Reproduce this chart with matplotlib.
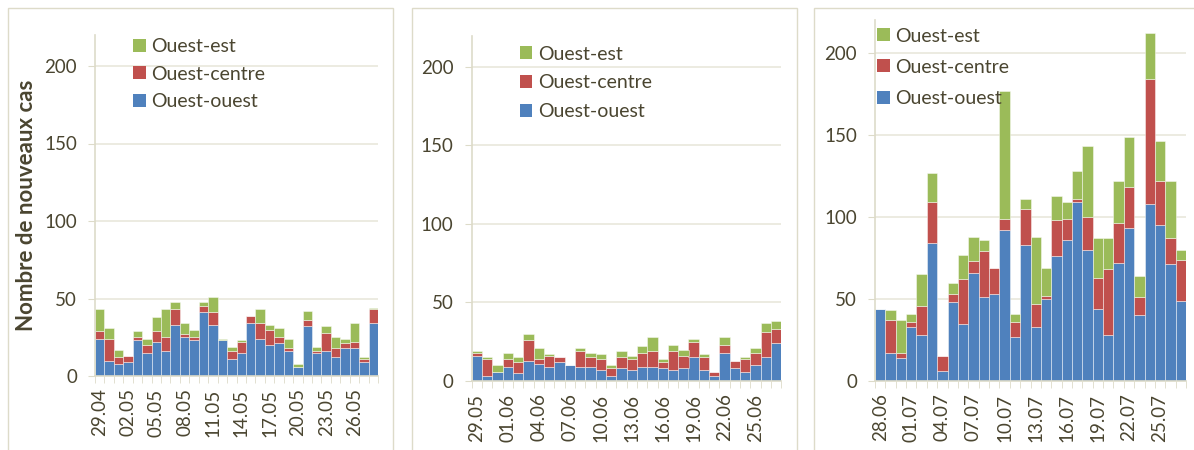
import matplotlib
matplotlib.use("Agg")
import matplotlib.pyplot as plt
from matplotlib.patches import Patch, Rectangle
import numpy as np

# ---------------- data ----------------
series_names = ["Ouest-est", "Ouest-centre", "Ouest-ouest"]

# Panel 1 : 29.04 -> 28.05
p1_ticklabels = ["29.04", "02.05", "05.05", "08.05", "11.05", "14.05", "17.05", "20.05", "23.05", "26.05"]
p1_ouest = [24, 10, 8, 9, 23, 15, 22, 16, 33, 25, 23, 41, 33, 23, 11, 15, 34, 24, 20, 21, 16, 6, 32, 15, 16, 12, 18, 18, 9, 34]
p1_centre = [5, 14, 4, 4, 2, 5, 7, 9, 10, 2, 2, 4, 8, 0, 5, 7, 5, 10, 10, 4, 2, 0, 4, 1, 12, 6, 3, 4, 2, 9]
p1_est = [14, 7, 5, 0, 4, 4, 9, 18, 5, 7, 5, 3, 10, 1, 3, 1, 0, 9, 3, 6, 6, 2, 6, 3, 4, 7, 3, 12, 1, 1]

# Panel 2 : 29.05 -> 27.06
p2_ticklabels = ["29.05", "01.06", "04.06", "07.06", "10.06", "13.06", "16.06", "19.06", "22.06", "25.06"]
p2_ouest = [16, 3, 6, 9, 5, 13, 11, 9, 12, 10, 9, 9, 7, 3, 8, 7, 9, 9, 8, 7, 8, 15, 7, 3, 18, 8, 6, 10, 15, 24]
p2_centre = [2, 11, 0, 5, 7, 13, 3, 7, 3, 0, 10, 6, 7, 5, 7, 7, 9, 10, 4, 12, 8, 10, 8, 3, 5, 5, 8, 8, 16, 9]
p2_est = [1, 1, 4, 4, 3, 4, 7, 1, 0, 0, 2, 3, 3, 2, 4, 2, 4, 9, 2, 4, 4, 2, 2, 0, 5, 0, 1, 3, 6, 5]

# Panel 3 : 28.06 -> 27.07
p3_ticklabels = ["28.06", "01.07", "04.07", "07.07", "10.07", "13.07", "16.07", "19.07", "22.07", "25.07"]
p3_ouest = [44, 17, 14, 33, 28, 84, 6, 48, 35, 66, 51, 53, 92, 27, 83, 33, 50, 76, 86, 109, 80, 44, 28, 72, 93, 40, 108, 95, 71, 49]
p3_centre = [0, 20, 3, 3, 18, 25, 9, 5, 27, 7, 28, 16, 7, 9, 22, 14, 2, 22, 13, 2, 20, 19, 40, 24, 25, 11, 76, 27, 16, 25]
p3_est = [0, 6, 20, 5, 19, 18, 0, 7, 15, 15, 7, 0, 78, 5, 6, 41, 17, 15, 10, 17, 43, 24, 19, 26, 31, 13, 28, 24, 35, 6]

yticks = [0, 50, 100, 150, 200]

# ---------------- style ----------------
C_BLUE = "#4F81BD"
C_RED = "#C0504D"
C_GREEN = "#9BBB59"
TXT = "#4a4530"
LIGHT = "#dddbc9"
GRID = "#e9e7dc"
plt.rcParams["font.family"] = ["Lato", "DejaVu Sans"]

W, H = 1194, 450
fig = plt.figure(figsize=(W / 100, H / 100), dpi=100)

# panel frames (pixels: left, right)
for l, r in [(8, 393), (412, 797), (814, 1200)]:
    fig.patches.append(Rectangle((l / W, -0.02), (r - l) / W, (H - 8) / H + 0.02,
                                 transform=fig.transFigure, fill=False,
                                 ec=LIGHT, lw=1.0, zorder=0))

def px_axes(x0, x1, ytop, ybot):
    return fig.add_axes([x0 / W, (H - ybot) / H, (x1 - x0) / W, (ybot - ytop) / H])

panels = [
    (px_axes(95, 378, 35, 376), p1_ouest, p1_centre, p1_est, p1_ticklabels,
     (0.134, 0.99), 0.53),
    (px_axes(471.5, 781.5, 35.5, 381), p2_ouest, p2_centre, p2_est, p2_ticklabels,
     (0.156, 0.971), 0.60),
    (px_axes(875, 1186, 20, 381), p3_ouest, p3_centre, p3_est, p3_ticklabels,
     (0.006, 0.979), 0.73),
]

for i, (ax, ouest, centre, est, tlabels, lpos, lsp) in enumerate(panels):
    ouest = np.array(ouest)
    centre = np.array(centre)
    est = np.array(est)
    x = np.arange(len(ouest))
    kw = dict(width=1.0, edgecolor=(1, 1, 1, 0.45), linewidth=0.7, zorder=2)
    ax.bar(x, ouest, color=C_BLUE, **kw)
    ax.bar(x, centre, bottom=ouest, color=C_RED, **kw)
    ax.bar(x, est, bottom=ouest + centre, color=C_GREEN, **kw)

    ax.set_xlim(-0.5, len(x) - 0.5)
    ax.set_ylim(0, 220)
    ax.set_yticks(yticks)
    ax.set_yticklabels([str(v) for v in yticks])
    ax.yaxis.grid(True, color=GRID, lw=1.2, zorder=0)
    ax.set_axisbelow(True)
    ax.tick_params(axis="y", length=5, color=LIGHT, labelcolor=TXT, labelsize=13.5, pad=8)

    ax.set_xticks(x[::3])
    ax.set_xticklabels(tlabels, rotation=90, fontsize=13.5, color=TXT)
    ax.set_xticks(np.arange(len(x) + 1) - 0.5, minor=True)
    ax.tick_params(axis="x", which="major", length=0, pad=9)
    ax.tick_params(axis="x", which="minor", length=5, color=LIGHT)

    for s in ["top", "right"]:
        ax.spines[s].set_visible(False)
    for s in ["left", "bottom"]:
        ax.spines[s].set_color(LIGHT)
        ax.spines[s].set_linewidth(1.2)

    handles = [Patch(facecolor=C_GREEN), Patch(facecolor=C_RED), Patch(facecolor=C_BLUE)]
    ax.legend(handles, series_names, loc="upper left", bbox_to_anchor=lpos,
              frameon=False, fontsize=14, labelcolor=TXT, handlelength=0.65,
              handleheight=0.65, handletextpad=0.3, labelspacing=lsp,
              borderaxespad=0, borderpad=0)

ax0 = panels[0][0]
ax0.set_ylabel("Nombre de nouveaux cas", fontsize=16, fontweight="bold", color=TXT)
ax0.yaxis.set_label_coords(-0.205, 0.50)

fig.savefig("out.png", dpi=100)
